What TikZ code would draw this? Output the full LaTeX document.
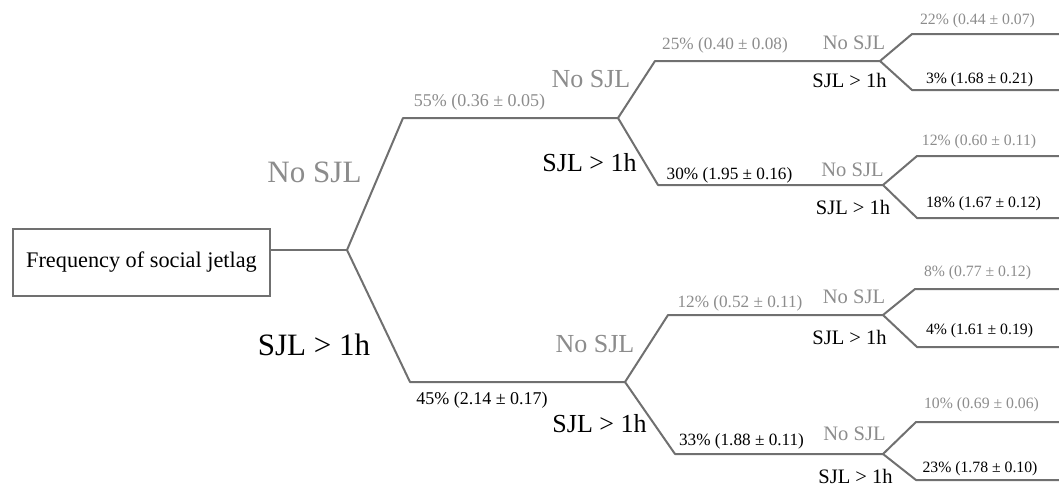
\documentclass[tikz,border=0pt]{standalone}
\usepackage{fontspec}
\setmainfont{Liberation Serif}
\definecolor{linegray}{HTML}{707070}
\definecolor{txtgray}{HTML}{8C8C8C}
\tikzset{
  branch/.style={draw=linegray, line width=1.5pt, line join=round},
  lbl/.style={inner sep=0pt, anchor=center},
  lA/.style={lbl, font=\fontsize{23.3}{26}\selectfont},
  lB/.style={lbl, font=\fontsize{19.5}{22}\selectfont},
  lC/.style={lbl, font=\fontsize{15.4}{18}\selectfont},
  nA/.style={lbl, font=\fontsize{13.5}{16}\selectfont},
  nB/.style={lbl, font=\fontsize{12.9}{15}\selectfont},
  nC/.style={lbl, font=\fontsize{11.8}{14}\selectfont},
  gr/.style={text=txtgray},
  bk/.style={text=black},
  rootbox/.style={draw=linegray, line width=1pt, minimum width=257\pxu, minimum height=67\pxu, inner sep=0pt, font=\fontsize{16.7}{20}\selectfont}
}
\newlength{\pxu}\setlength{\pxu}{0.75pt}
\begin{document}
\begin{tikzpicture}[x=0.75pt, y=-0.75pt]
\useasboundingbox (0,0) rectangle (1059,487);
% root
\node[rootbox] (root) at (141.5,262.5) {Frequency of social jetlag};
% coordinates
\coordinate (b0) at (347,250);
\coordinate (a1) at (403,118); \coordinate (b1) at (618,118);
\coordinate (a2) at (410,382); \coordinate (b2) at (625,382);
\coordinate (c1) at (655,61);  \coordinate (d1) at (880,61);
\coordinate (c2) at (658,185); \coordinate (d2) at (883,185);
\coordinate (c3) at (668,315); \coordinate (d3) at (883,315);
\coordinate (c4) at (675,454); \coordinate (d4) at (883,454);
\coordinate (e1) at (912,34);  \coordinate (f1) at (1059,34);
\coordinate (e2) at (912,90);  \coordinate (f2) at (1059,90);
\coordinate (e3) at (917,156); \coordinate (f3) at (1059,156);
\coordinate (e4) at (917,218); \coordinate (f4) at (1059,218);
\coordinate (e5) at (915,289); \coordinate (f5) at (1059,289);
\coordinate (e6) at (917,347); \coordinate (f6) at (1059,347);
\coordinate (e7) at (916,422); \coordinate (f7) at (1059,422);
\coordinate (e8) at (916,480); \coordinate (f8) at (1059,480);
% connectors
\draw[branch] (root.east |- b0) -- (b0);
\draw[branch] (b0) -- (a1) -- (b1);
\draw[branch] (b0) -- (a2) -- (b2);
\draw[branch] (b1) -- (c1) -- (d1);
\draw[branch] (b1) -- (c2) -- (d2);
\draw[branch] (b2) -- (c3) -- (d3);
\draw[branch] (b2) -- (c4) -- (d4);
\draw[branch] (d1) -- (e1) -- (f1);
\draw[branch] (d1) -- (e2) -- (f2);
\draw[branch] (d2) -- (e3) -- (f3);
\draw[branch] (d2) -- (e4) -- (f4);
\draw[branch] (d3) -- (e5) -- (f5);
\draw[branch] (d3) -- (e6) -- (f6);
\draw[branch] (d4) -- (e7) -- (f7);
\draw[branch] (d4) -- (e8) -- (f8);
% level 1 labels
\node[lA,gr] (l1n) at (314.5,172) {No SJL};
\node[lA,bk] (l1s) at (314,345) {SJL > 1h};
\node[nA,gr] (p55) at (479.5,102) {55\% (0.36 ± 0.05)};
\node[nA,bk] (p45) at (482,400) {45\% (2.14 ± 0.17)};
% level 2 labels
\node[lB,gr] (l2n1) at (591,79) {No SJL};
\node[lB,bk] (l2s1) at (589.5,163) {SJL > 1h};
\node[lB,gr] (l2n2) at (595,344) {No SJL};
\node[lB,bk] (l2s2) at (599.5,424) {SJL > 1h};
\node[nB,gr] (p25) at (725,45) {25\% (0.40 ± 0.08)};
\node[nB,bk] (p30) at (729.5,175) {30\% (1.95 ± 0.16)};
\node[nB,gr] (p12a) at (740,303) {12\% (0.52 ± 0.11)};
\node[nB,bk] (p33) at (741.5,441) {33\% (1.88 ± 0.11)};
% level 3 labels
\node[lC,gr] (l3n1) at (854,43) {No SJL};
\node[lC,bk] (l3s1) at (849.5,80) {SJL > 1h};
\node[lC,gr] (l3n2) at (852.5,170) {No SJL};
\node[lC,bk] (l3s2) at (853,207) {SJL > 1h};
\node[lC,gr] (l3n3) at (854,297) {No SJL};
\node[lC,bk] (l3s3) at (849.5,337) {SJL > 1h};
\node[lC,gr] (l3n4) at (854.5,434) {No SJL};
\node[lC,bk] (l3s4) at (855.5,476.5) {SJL > 1h};
% level 4 labels
\node[nC,gr] (p22) at (977.5,21) {22\% (0.44 ± 0.07)};
\node[nC,bk] (p3) at (979.5,80) {3\% (1.68 ± 0.21)};
\node[nC,gr] (p12b) at (979,142) {12\% (0.60 ± 0.11)};
\node[nC,bk] (p18) at (983.5,204) {18\% (1.67 ± 0.12)};
\node[nC,gr] (p8) at (977.5,273) {8\% (0.77 ± 0.12)};
\node[nC,bk] (p4) at (979.5,331) {4\% (1.61 ± 0.19)};
\node[nC,gr] (p10) at (981.5,405) {10\% (0.69 ± 0.06)};
\node[nC,bk] (p23) at (980,469) {23\% (1.78 ± 0.10)};
\end{tikzpicture}
\end{document}
